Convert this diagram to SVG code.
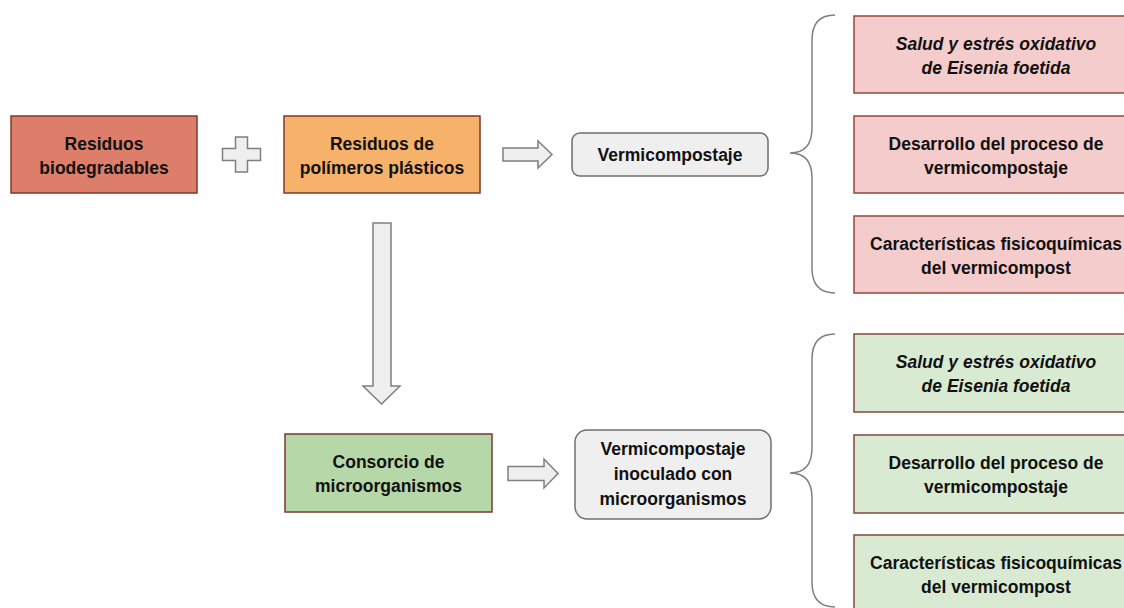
<svg xmlns="http://www.w3.org/2000/svg" width="1124" height="608" viewBox="0 0 1124 608">
<style>
  .box { stroke: #7e3a2c; stroke-width: 1.5; }
  .red { fill: #dd7e6b; }
  .orange { fill: #f6b26b; }
  .green { fill: #b6d7a8; }
  .pink { fill: #f4cccc; stroke: #94463a; }
  .lgreen { fill: #d9ead3; stroke: #85463c; }
  .gray { fill: #efefef; stroke: #6f6f6f; stroke-width: 1.5; }
  .arrow { fill: #efefef; stroke: #7f7f7f; stroke-width: 1.5; stroke-linejoin: miter; }
  .brace { fill: none; stroke: #808080; stroke-width: 1.5; }
  text { font-family: "Liberation Sans", Arial, sans-serif; font-weight: bold; font-size: 17.5px; fill: #111; text-anchor: middle; }
  .it { font-style: italic; }
</style>
<rect width="1124" height="608" fill="#ffffff"/>

<g id="connectors">
  <path id="plus" class="arrow" d="M235.5,137 H247.5 V148.5 H260.5 V160.5 H247.5 V172 H235.5 V160.5 H222.5 V148.5 H235.5 Z"/>
  <path id="arrow-right-1" class="arrow" d="M503,148 H538 V141 L552,154.5 L538,168 V161 H503 Z"/>
  <path id="arrow-down" class="arrow" d="M373,223 H391 V386 H400 L381.5,404 L363,386 H373 Z"/>
  <path id="arrow-right-2" class="arrow" d="M508,466.5 H544 V459 L558,473.5 L544,488 V480.5 H508 Z"/>
  <path id="brace-1" class="brace" d="M835,15 Q812,15 812,40 L812,128 Q812,153 790,153 Q812,153 812,178 L812,268 Q812,293 835,293"/>
  <path id="brace-2" class="brace" d="M835,334 Q812,334 812,359 L812,448 Q812,473 790,473 Q812,473 812,498 L812,582 Q812,607 835,607"/>
</g>

<g id="node-residuos-biodegradables">
  <rect class="box red" x="11" y="116" width="186" height="77"/>
  <text x="104" y="150">Residuos</text>
  <text x="104" y="174">biodegradables</text>
</g>

<g id="node-residuos-polimeros">
  <rect class="box orange" x="284" y="116" width="196" height="77"/>
  <text x="382" y="150">Residuos de</text>
  <text x="382" y="174">polímeros plásticos</text>
</g>

<g id="node-vermicompostaje">
  <rect class="gray" x="572" y="133" width="196" height="43" rx="8"/>
  <text x="670" y="161">Vermicompostaje</text>
</g>

<g id="node-consorcio">
  <rect class="box green" x="285" y="434" width="207" height="78"/>
  <text x="388.5" y="468">Consorcio de</text>
  <text x="388.5" y="492">microorganismos</text>
</g>

<g id="node-vermicompostaje-inoculado">
  <rect class="gray" x="575" y="430" width="196" height="89" rx="12"/>
  <text x="673" y="455">Vermicompostaje</text>
  <text x="673" y="480">inoculado con</text>
  <text x="673" y="505">microorganismos</text>
</g>

<g id="node-salud-1">
  <rect class="box pink" x="854" y="16" width="280" height="77"/>
  <text class="it" x="996" y="50">Salud y estrés oxidativo</text>
  <text class="it" x="996" y="74">de Eisenia foetida</text>
</g>
<g id="node-desarrollo-1">
  <rect class="box pink" x="854" y="116" width="280" height="77"/>
  <text x="996" y="150">Desarrollo del proceso de</text>
  <text x="996" y="174">vermicompostaje</text>
</g>
<g id="node-caracteristicas-1">
  <rect class="box pink" x="854" y="216" width="280" height="77"/>
  <text x="996" y="250">Características fisicoquímicas</text>
  <text x="996" y="274">del vermicompost</text>
</g>

<g id="node-salud-2">
  <rect class="box lgreen" x="854" y="334" width="280" height="78"/>
  <text class="it" x="996" y="368">Salud y estrés oxidativo</text>
  <text class="it" x="996" y="392">de Eisenia foetida</text>
</g>
<g id="node-desarrollo-2">
  <rect class="box lgreen" x="854" y="435" width="280" height="78"/>
  <text x="996" y="469">Desarrollo del proceso de</text>
  <text x="996" y="493">vermicompostaje</text>
</g>
<g id="node-caracteristicas-2">
  <rect class="box lgreen" x="854" y="535" width="280" height="80"/>
  <text x="996" y="569">Características fisicoquímicas</text>
  <text x="996" y="593">del vermicompost</text>
</g>
</svg>
